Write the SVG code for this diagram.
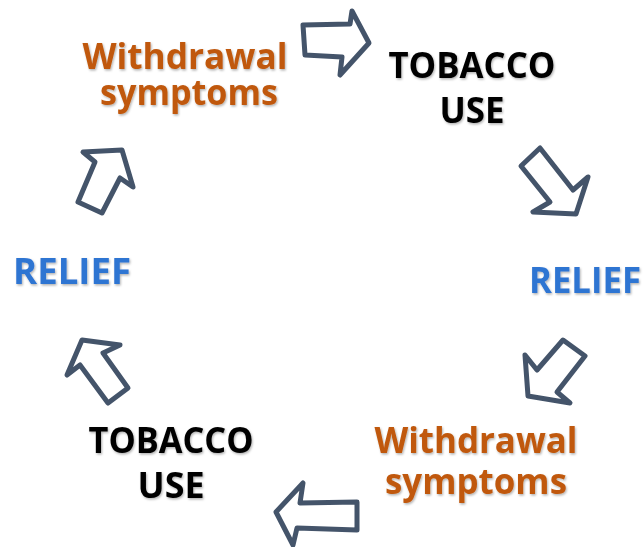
<svg xmlns="http://www.w3.org/2000/svg" width="644" height="547" viewBox="0 0 644 547">
<style>
.lbl{font-family:"Open Sans","Noto Sans","Liberation Sans",sans-serif;font-weight:bold;font-size:35px;text-anchor:middle;filter:url(#sh)}
.wd{fill:#C0590E}
.tb{fill:#000000}
.rl{fill:#2F74D2}
.arr{fill:#FFFFFF;stroke:#44546A;stroke-width:5;stroke-linejoin:round}
</style>
<defs>
<filter id="sh" x="-10%" y="-20%" width="120%" height="150%">
<feDropShadow dx="1" dy="1.5" stdDeviation="1" flood-color="#000" flood-opacity="0.3"/>
</filter>
</defs>
<rect width="644" height="547" fill="#FFFFFF"/>
<g id="connectors">
<polygon class="arr" points="303,25 350,24 352,11 369,43 340,75 342,57 305,55"/>
<polygon class="arr" points="540,148 521,166 550,202 533,212 576,214 588,177 573,190"/>
<polygon class="arr" points="563,340 585,356 557,392 570,403 528,396 525,355 537,370"/>
<polygon class="arr" points="357,502 357,530 297,528 293,545 276,512 303,483 300,503"/>
<polygon class="arr" points="82,340 120,345 103,353 128,388 108,403 80,365 67,375"/>
<polygon class="arr" points="122,150 133,187 120,178 102,213 78,202 95,162 83,152"/>
</g>
<g id="withdrawal-top">
<text class="lbl wd" x="185" y="69" textLength="205" lengthAdjust="spacingAndGlyphs">Withdrawal</text>
<text class="lbl wd" x="189" y="105" textLength="178" lengthAdjust="spacingAndGlyphs">symptoms</text>
</g>
<g id="tobacco-top">
<text class="lbl tb" x="472" y="78" textLength="167" lengthAdjust="spacingAndGlyphs">TOBACCO</text>
<text class="lbl tb" x="472" y="123" textLength="65" lengthAdjust="spacingAndGlyphs">USE</text>
</g>
<g id="relief-right">
<text class="lbl rl" x="585" y="293" textLength="112" lengthAdjust="spacingAndGlyphs">RELIEF</text>
</g>
<g id="withdrawal-bottom">
<text class="lbl wd" x="476" y="453" textLength="203" lengthAdjust="spacingAndGlyphs">Withdrawal</text>
<text class="lbl wd" x="476" y="494" textLength="182" lengthAdjust="spacingAndGlyphs">symptoms</text>
</g>
<g id="tobacco-bottom">
<text class="lbl tb" x="171" y="453" textLength="165" lengthAdjust="spacingAndGlyphs">TOBACCO</text>
<text class="lbl tb" x="171" y="498" textLength="67" lengthAdjust="spacingAndGlyphs">USE</text>
</g>
<g id="relief-left">
<text class="lbl rl" x="72" y="284" textLength="118" lengthAdjust="spacingAndGlyphs">RELIEF</text>
</g>
</svg>
